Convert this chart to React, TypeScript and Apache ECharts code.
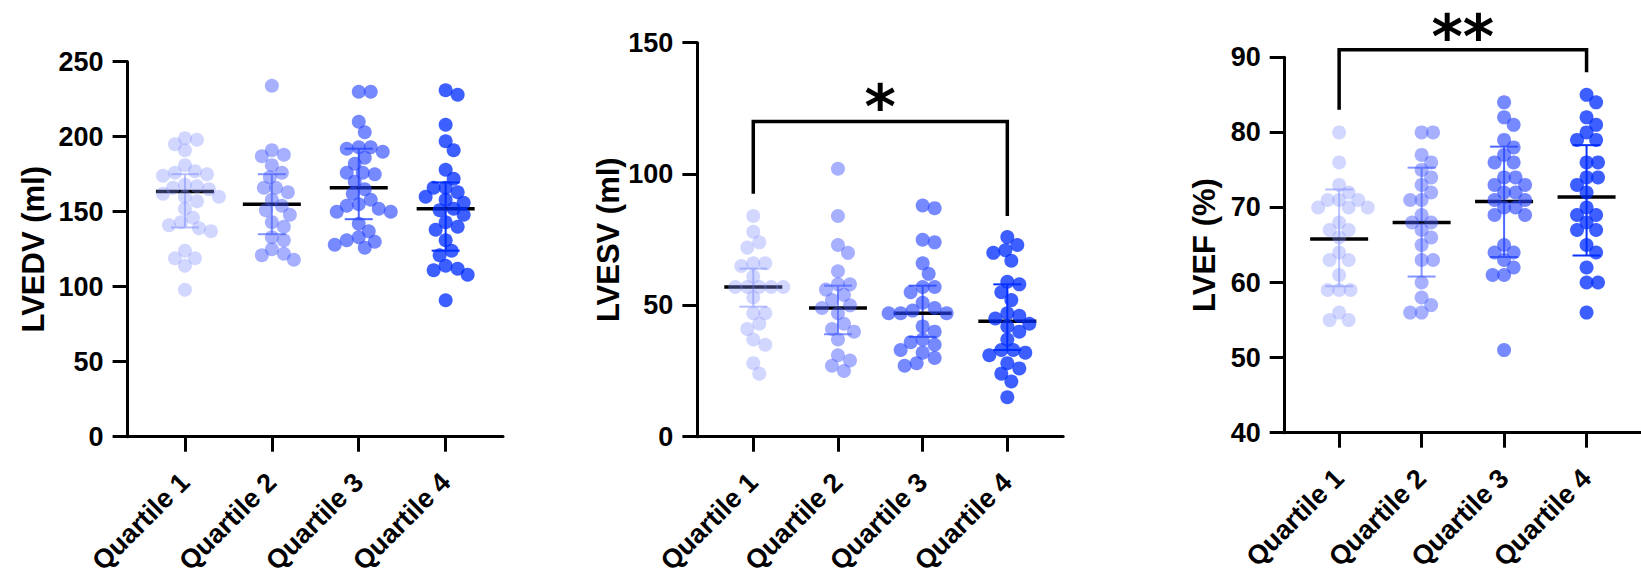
import React, { useEffect, useRef } from 'react';
import * as echarts from 'echarts';

// ---------------- DATA ----------------
const categories = ['Quartile 1', 'Quartile 2', 'Quartile 3', 'Quartile 4'];

// LVEDV (ml)
const lvedvQ1 = [199, 198, 195, 191, 181, 177, 176, 175, 174, 168, 167, 166, 165, 162, 160, 160, 157, 152, 146, 143, 141, 139, 137, 124, 119, 119, 114, 98];
const lvedvQ2 = [234, 191, 188, 187, 181, 176, 173, 166, 166, 163, 158, 154, 151, 148, 143, 140, 133, 131, 125, 122, 121, 118];
const lvedvQ3 = [230, 230, 210, 203, 193, 193, 192, 190, 186, 182, 176, 175, 176, 170, 165, 162, 158, 155, 154, 152, 150, 150, 142, 137, 133, 131, 130, 128, 126];
const lvedvQ4 = [231, 228, 208, 197, 191, 178, 172, 166, 166, 163, 160, 158, 156, 152, 151, 148, 143, 140, 138, 131, 124, 121, 114, 111, 112, 108, 91];
const lvedvMedian = [163.5, 155, 166, 152];
const lvedvLow = [139.5, 135, 145, 124];
const lvedvHigh = [175, 175, 192, 169.5];
const lvedvAxis = [0, 250, 50];

// LVESV (ml)
const lvesvQ1 = [84, 78, 74, 72, 66, 66, 65, 61, 57, 57, 57, 57, 57, 53, 47, 47, 43, 41, 37, 35, 28, 24];
const lvesvQ2 = [102, 84, 73, 70, 63, 58, 58, 56, 54, 52, 50, 49, 47, 43, 41, 40, 37, 31, 29, 27, 25];
const lvesvQ3 = [88, 87, 75, 74, 66, 62, 57, 57, 55, 51, 49, 48, 47, 47, 47, 42, 40, 37, 36, 35, 33, 32, 30, 28, 27];
const lvesvQ4 = [76, 73, 71, 70, 67, 59, 58, 55, 52, 47, 46, 45, 43, 42, 40, 37, 33, 33, 32, 31, 28, 26, 24, 21, 15];
const lvesvMedian = [57, 49, 47, 44];
const lvesvLow = [49.5, 39, 38, 33];
const lvesvHigh = [64, 57.5, 57.5, 58];
const lvesvAxis = [0, 150, 50];
const lvesvBracket = [1, 4, 120, 92.5, 84];
const lvesvSig = '*';

// LVEF (%)
const lvefQ1 = [80, 76, 73, 72, 71, 71, 71, 70, 70, 70, 68, 67, 67, 66, 64, 63, 63, 61, 59, 59, 59, 56, 55, 55];
const lvefQ2 = [80, 80, 77, 76, 75, 74, 73, 72, 71, 71, 69, 68, 68, 67, 66, 65, 63, 63, 60, 58, 57, 56, 56];
const lvefQ3 = [84, 82, 81, 79, 78, 77, 76, 76, 74, 74, 73, 73, 72, 72, 71, 71, 70, 70, 69, 69, 65, 64, 64, 63, 62, 61, 61, 51];
const lvefQ4 = [85, 84, 82, 81, 80, 79, 79, 76, 76, 74, 74, 73, 72, 70, 69, 69, 68, 67, 67, 65, 64, 62, 60, 60, 56];
const lvefMedian = [65.8, 68, 70.8, 71.4];
const lvefLow = [59.5, 60.8, 63.4, 63.6];
const lvefHigh = [72.4, 75.3, 78.1, 78.3];
const lvefAxis = [40, 90, 10];
const lvefBracket = [1, 4, 91, 83, 88];
const lvefSig = '**';

// ---------------- STYLE / LAYOUT ----------------
const dotColors = ['rgba(130,145,255,0.45)', 'rgba(70,90,255,0.6)', 'rgba(40,70,255,0.8)', 'rgba(0,45,255,0.95)'];
const barColors = ['#b8c0ff', '#8595ff', '#4d68ff', '#0a33ff'];
const FONT = 'Liberation Sans, Arial, Helvetica, sans-serif';
const STAR_FONT = 'DejaVu Sans, Liberation Sans, sans-serif';
const X_MIN = 0.34;
const X_MAX = 4.66;
const DOT = 14;
const STEP = 2;
const MIN_D = 11.5;

const panels = [
  { title: 'LVEDV (ml)', groups: [lvedvQ1, lvedvQ2, lvedvQ3, lvedvQ4], med: lvedvMedian, lo: lvedvLow, hi: lvedvHigh, axis: lvedvAxis, bracket: null as number[] | null, sig: '', starLift: 15, left: 127.6, top: 61.7, width: 375.4, height: 375, nameGap: 79 },
  { title: 'LVESV (ml)', groups: [lvesvQ1, lvesvQ2, lvesvQ3, lvesvQ4], med: lvesvMedian, lo: lvesvLow, hi: lvesvHigh, axis: lvesvAxis, bracket: lvesvBracket, sig: lvesvSig, starLift: 15, left: 697.4, top: 42.7, width: 365.8, height: 394, nameGap: 72 },
  { title: 'LVEF (%)', groups: [lvefQ1, lvefQ2, lvefQ3, lvefQ4], med: lvefMedian, lo: lvefLow, hi: lvefHigh, axis: lvefAxis, bracket: lvefBracket, sig: lvefSig, starLift: 13, left: 1284.7, top: 57.3, width: 373.4, height: 375.4, nameGap: 65 },
];

// deterministic beeswarm layout (pixel-space collision avoidance)
function swarm(values: number[], center: number, pxX: number, pxY: number): number[][] {
  const order = values.map((_, i) => i).sort((a, b) => values[b] - values[a]);
  const placed: { x: number; y: number }[] = [];
  const out: number[][] = [];
  for (const i of order) {
    const y = values[i] * pxY;
    let chosen = 0;
    for (let k = 0; k < 200; k++) {
      const off = k === 0 ? 0 : (k % 2 === 1 ? 1 : -1) * Math.ceil(k / 2) * STEP;
      if (placed.every((p) => Math.hypot(p.x - off, p.y - y) >= MIN_D)) {
        chosen = off;
        break;
      }
    }
    placed.push({ x: chosen, y });
    out.push([center + chosen / pxX, values[i]]);
  }
  return out;
}

function buildOption() {
  const grid: any[] = [];
  const xAxis: any[] = [];
  const yAxis: any[] = [];
  const series: any[] = [];

  panels.forEach((p, pi) => {
    grid.push({ left: p.left, top: p.top, width: p.width, height: p.height, containLabel: false });
    xAxis.push({
      type: 'value',
      gridIndex: pi,
      min: X_MIN,
      max: X_MAX,
      splitLine: { show: false },
      axisLine: { show: true, onZero: false, lineStyle: { color: '#000', width: 3 } },
      axisTick: { show: true, customValues: [1, 2, 3, 4], length: 15, lineStyle: { color: '#000', width: 3 } },
      axisLabel: {
        show: true,
        customValues: [1, 2, 3, 4],
        formatter: (v: number) => categories[Math.round(v) - 1] || '',
        rotate: 45,
        margin: 41,
        color: '#000',
        fontSize: 27,
        fontWeight: 'bold',
        fontFamily: FONT,
      },
    });
    yAxis.push({
      type: 'value',
      gridIndex: pi,
      min: p.axis[0],
      max: p.axis[1],
      interval: p.axis[2],
      name: p.title,
      nameLocation: 'middle',
      nameRotate: 90,
      nameGap: p.nameGap,
      nameTextStyle: { color: '#000', fontSize: 31, fontWeight: 'bold', fontFamily: FONT },
      splitLine: { show: false },
      axisLine: { show: true, onZero: false, lineStyle: { color: '#000', width: 3 } },
      axisTick: { show: true, length: 15, lineStyle: { color: '#000', width: 3 } },
      axisLabel: { margin: 24, color: '#000', fontSize: 27, fontWeight: 'bold', fontFamily: FONT },
    });

    const pxX = p.width / (X_MAX - X_MIN);
    const pxY = p.height / (p.axis[1] - p.axis[0]);

    // median + IQR bars
    series.push({
      type: 'custom',
      xAxisIndex: pi,
      yAxisIndex: pi,
      z: 1,
      clip: false,
      silent: true,
      data: p.med.map((m, gi) => [gi + 1, m, p.lo[gi], p.hi[gi]]),
      renderItem: (params: any, api: any) => {
        const x = api.value(0);
        const pm = api.coord([x, api.value(1)]);
        const pl = api.coord([x, api.value(2)]);
        const ph = api.coord([x, api.value(3)]);
        const c = barColors[params.dataIndex];
        return {
          type: 'group',
          children: [
            { type: 'line', shape: { x1: pl[0], y1: pl[1], x2: ph[0], y2: ph[1] }, style: { stroke: c, lineWidth: 2 } },
            { type: 'line', shape: { x1: pl[0] - 14, y1: pl[1], x2: pl[0] + 14, y2: pl[1] }, style: { stroke: c, lineWidth: 2 } },
            { type: 'line', shape: { x1: ph[0] - 14, y1: ph[1], x2: ph[0] + 14, y2: ph[1] }, style: { stroke: c, lineWidth: 2 } },
            { type: 'line', shape: { x1: pm[0] - 29, y1: pm[1], x2: pm[0] + 29, y2: pm[1] }, style: { stroke: '#000', lineWidth: 3.5 } },
          ],
        };
      },
    });

    // dots
    p.groups.forEach((vals, gi) => {
      series.push({
        type: 'scatter',
        xAxisIndex: pi,
        yAxisIndex: pi,
        z: 2,
        symbolSize: DOT,
        itemStyle: { color: dotColors[gi] },
        data: swarm(vals, gi + 1, pxX, pxY),
      });
    });

    // significance bracket
    if (p.bracket) {
      const sig = p.sig;
      const lift = p.starLift;
      series.push({
        type: 'custom',
        xAxisIndex: pi,
        yAxisIndex: pi,
        z: 3,
        clip: false,
        silent: true,
        data: [p.bracket],
        renderItem: (_params: any, api: any) => {
          const x1 = api.value(0);
          const x2 = api.value(1);
          const a = api.coord([x1, api.value(3)]);
          const b = api.coord([x1, api.value(2)]);
          const c = api.coord([x2, api.value(2)]);
          const d = api.coord([x2, api.value(4)]);
          return {
            type: 'group',
            children: [
              { type: 'polyline', shape: { points: [a, b, c, d] }, style: { stroke: '#000', lineWidth: 3.5, fill: null } },
              {
                type: 'text',
                x: (b[0] + c[0]) / 2,
                y: b[1] - lift,
                style: { text: sig, fontSize: 60, fontWeight: 'bold', fontFamily: STAR_FONT, fill: '#000', align: 'center', verticalAlign: 'middle' },
              },
            ],
          };
        },
      });
    }
  });

  return { animation: false, backgroundColor: '#fff', grid, xAxis, yAxis, series };
}

export default function App() {
  const ref = useRef<HTMLDivElement>(null);
  useEffect(() => {
    const chart = echarts.init(ref.current!, null, { renderer: 'svg' });
    chart.setOption(buildOption() as any);
    return () => chart.dispose();
  }, []);
  return <div ref={ref} style={{ position: 'fixed', left: 0, top: 0, width: 1641, height: 581, background: '#fff' }} />;
}
